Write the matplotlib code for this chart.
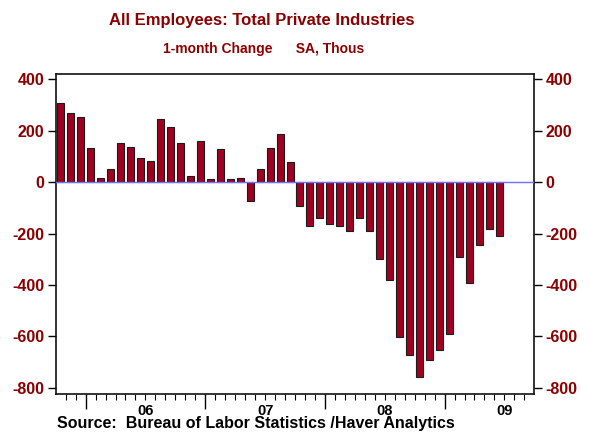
import matplotlib
matplotlib.use("Agg")
import matplotlib.pyplot as plt
import matplotlib.transforms as mtransforms
from matplotlib.ticker import FixedLocator, NullFormatter

months = ["2005-10", "2005-11", "2005-12",
          "2006-01", "2006-02", "2006-03", "2006-04", "2006-05", "2006-06",
          "2006-07", "2006-08", "2006-09", "2006-10", "2006-11", "2006-12",
          "2007-01", "2007-02", "2007-03", "2007-04", "2007-05", "2007-06",
          "2007-07", "2007-08", "2007-09", "2007-10", "2007-11", "2007-12",
          "2008-01", "2008-02", "2008-03", "2008-04", "2008-05", "2008-06",
          "2008-07", "2008-08", "2008-09", "2008-10", "2008-11", "2008-12",
          "2009-01", "2009-02", "2009-03", "2009-04", "2009-05", "2009-06"]
changes = [306, 269, 253,
           134, 16, 51, 153, 135, 95,
           82, 247, 213, 151, 23, 160,
           12, 129, 12, 16, -74, 51,
           134, 187, 77, -91, -171, -140,
           -164, -171, -190, -140, -190, -299,
           -382, -604, -673, -757, -692, -652,
           -591, -290, -393, -243, -181, -209]
year_labels = ["06", "07", "08", "09"]
y_ticks = [400, 200, 0, -200, -400, -600, -800]

title = "All Employees: Total Private Industries"
subtitle = "1-month Change      SA, Thous"
source = "Source:  Bureau of Labor Statistics /Haver Analytics"

RED = "#a00020"
TXT = "#8b0000"
plt.rcParams['font.family'] = ['Liberation Sans', 'DejaVu Sans']

fig = plt.figure(figsize=(5.9, 4.36), dpi=100)
ax = fig.add_axes([0.0944, 0.0956, 0.8112, 0.7344])

# month index: 0 = Oct 2005 start
def month_index(s):
    y, m = s.split("-")
    return (int(y) - 2005) * 12 + int(m) - 10

xs = [month_index(m) + 0.5 for m in months]
ax.bar(xs, changes, width=0.7, color=RED, edgecolor="#1a1a1a", linewidth=0.8, zorder=2)
ax.axhline(0, color="#7070ff", linewidth=1.0, zorder=3)

ax.set_xlim(0, 48)
ax.set_ylim(-825, 420)

year_starts = [month_index(f"{2006 + k}-01") for k in range(4)]
ax.xaxis.set_major_locator(FixedLocator(year_starts))
ax.xaxis.set_minor_locator(FixedLocator([i for i in range(1, 48) if i not in year_starts]))
ax.xaxis.set_major_formatter(NullFormatter())
ax.tick_params(axis="x", which="major", length=11, width=1.0, direction="out")
ax.tick_params(axis="x", which="minor", length=4, width=0.8, direction="out")

blend = mtransforms.blended_transform_factory(ax.transData, fig.transFigure)
for ys, lab in zip(year_starts, year_labels):
    ax.text(ys + 6, 1 - 414.5 / 436, lab, transform=blend, ha="center", va="baseline",
            fontsize=10.5, fontweight="bold", color="black")

ax.set_yticks(y_ticks)
ax.set_yticklabels([str(v) for v in y_ticks])
ax.tick_params(axis="y", which="both", length=6, width=1.0, direction="out", pad=2,
               labelsize=11.5, labelcolor=TXT, left=True, right=True,
               labelleft=True, labelright=True)
for lab in ax.get_yticklabels():
    lab.set_fontweight("bold")
for sp in ax.spines.values():
    sp.set_linewidth(1.2)
    sp.set_color("#111111")

fig.text(262 / 590, 1 - 20 / 436, title, ha="center", va="center", fontsize=12,
         fontweight="bold", color=TXT)
fig.text(264 / 590, 1 - 49 / 436, subtitle, ha="center", va="center", fontsize=10,
         fontweight="bold", color=TXT)
fig.text(57 / 590, 1 - 428 / 436, source, ha="left", va="baseline", fontsize=11.5,
         fontweight="bold", color="black")

fig.savefig("out.png", dpi=100)
